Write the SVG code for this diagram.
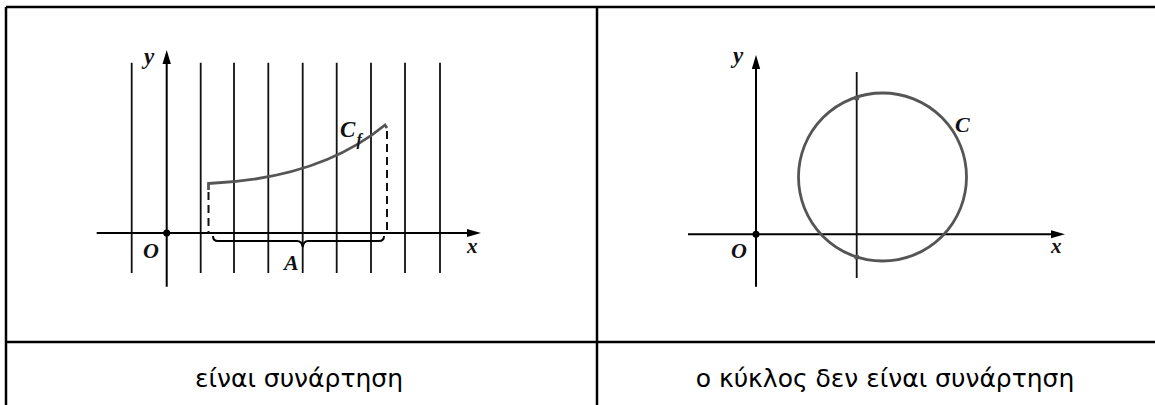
<svg xmlns="http://www.w3.org/2000/svg" width="1155" height="405" viewBox="0 0 1155 405">
  <style>
    .grid { stroke: #111; stroke-width: 1.8; fill: none; }
    .axis { stroke: #000; stroke-width: 2; fill: none; }
    .curve { stroke: #555; stroke-width: 2.8; fill: none; }
    .dash { stroke: #111; stroke-width: 2; stroke-dasharray: 8 5; fill: none; }
    .tbl { stroke: #000; stroke-width: 2.5; fill: none; }
    .lbl { font-family: "Liberation Serif", "DejaVu Serif", serif; font-style: italic; font-weight: bold; fill: #111; }
    .cap { font-family: "DejaVu Sans", "Noto Sans", sans-serif; font-size: 25px; fill: #000; text-anchor: middle; }
  </style>
  <rect width="1155" height="405" fill="#fff"/>
  <g id="table">
    <path class="tbl" d="M6,7 H1155 M6,7 V405 M597,7 V405 M6,342 H1155"/>
  </g>
  <g id="left-graph">
    <g id="grid-lines">
      <path class="grid" d="M131.7,62.7 V273 M200.7,62.7 V273 M234,62.7 V273 M268.3,62.7 V273 M302.7,62.7 V273 M336.7,62.7 V273 M371,62.7 V273 M405,62.7 V273 M440,62.7 V273"/>
    </g>
    <g id="left-axes">
      <path class="axis" d="M166.7,286.7 V62 M96.7,233 H470"/>
      <polygon points="166.7,50 162.5,64 170.9,64" fill="#000"/>
      <polygon points="481,233 467,229 467,237" fill="#000"/>
      <circle cx="166.7" cy="233" r="3.5" fill="#000"/>
    </g>
    <g id="cf-curve">
      <path class="curve" d="M208.5,190 L208.5,183.5 C290,180 345,158 385,125 L387,128"/>
      <path class="dash" d="M208.5,192 V233 M387,131 V233"/>
      <path class="axis" d="M213,236 Q213,241 218,241 L297,241 Q302,241 302.7,247 Q303.5,241 308,241 L379,241 Q384,241 384,236"/>
    </g>
    <text class="lbl" x="144" y="64" font-size="23">y</text>
    <text class="lbl" x="143" y="258" font-size="22">O</text>
    <text class="lbl" x="467" y="253" font-size="21">x</text>
    <text class="lbl" x="284" y="270" font-size="22">A</text>
    <text class="lbl" x="340" y="137" font-size="23">C</text>
    <text class="lbl" x="356.5" y="145" font-size="16">f</text>
  </g>
  <g id="right-graph">
    <path class="axis" d="M756,286.7 V67 M688,234.3 H1054"/>
    <polygon points="756,55 751.8,69 760.2,69" fill="#000"/>
    <polygon points="1065,234.3 1051,230.3 1051,238.3" fill="#000"/>
    <circle cx="756" cy="234.3" r="3.5" fill="#000"/>
    <path class="grid" d="M856.7,72 V278"/>
    <circle class="curve" cx="882.5" cy="177" r="84"/>
    <circle cx="856.7" cy="98" r="2.6" fill="#555"/>
    <circle cx="856.7" cy="257" r="2.6" fill="#555"/>
    <text class="lbl" x="733" y="63" font-size="23">y</text>
    <text class="lbl" x="731" y="258" font-size="22">O</text>
    <text class="lbl" x="1051" y="253" font-size="21">x</text>
    <text class="lbl" x="955" y="132" font-size="22">C</text>
  </g>
  <g id="captions">
    <text class="cap" x="299" y="387">είναι συνάρτηση</text>
    <text class="cap" x="885" y="387">ο κύκλος δεν είναι συνάρτηση</text>
  </g>
</svg>
